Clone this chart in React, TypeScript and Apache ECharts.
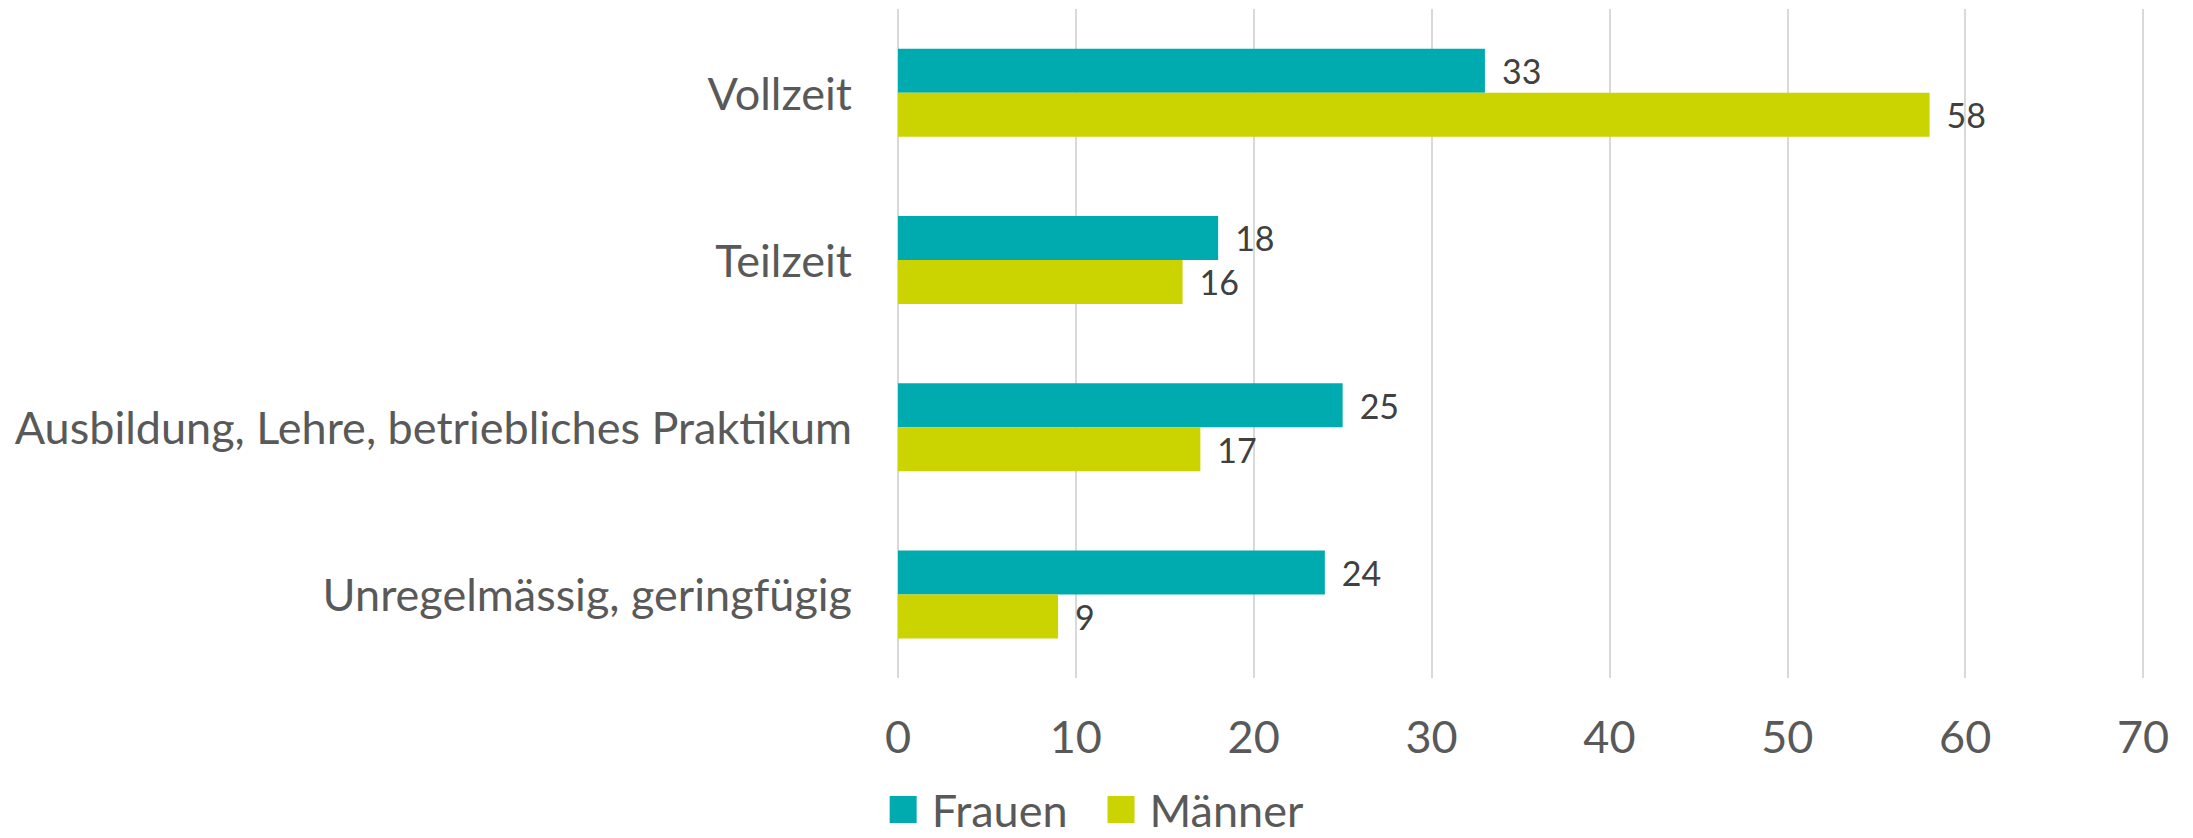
import React, { useEffect, useRef } from "react";
import * as echarts from "echarts";

const categories = [
  "Vollzeit",
  "Teilzeit",
  "Ausbildung, Lehre, betriebliches Praktikum",
  "Unregelmässig, geringfügig",
];
const frauen = [33, 18, 25, 24];
const maenner = [58, 16, 17, 9];
const seriesNames = ["Frauen", "Männer"];

const FONT = "Lato, 'Open Sans', sans-serif";

export default function App() {
  const ref = useRef<HTMLDivElement>(null);
  useEffect(() => {
    document.body.style.margin = "0";
    const chart = echarts.init(ref.current!, undefined, { renderer: "svg" });
    const labelCfg = {
      show: true,
      position: "right" as const,
      distance: 17,
      fontSize: 34,
      color: "#404040",
      fontFamily: FONT,
    };
    chart.setOption({
      animation: false,
      textStyle: { fontFamily: FONT },
      grid: { left: 898, right: 50, top: 9, bottom: 160, containLabel: false },
      legend: {
        bottom: 6,
        left: "center",
        padding: 0,
        icon: "rect",
        itemWidth: 27,
        itemHeight: 27,
        itemGap: 40,
        textStyle: {
          fontSize: 45,
          lineHeight: 34,
          color: "#595959",
          fontFamily: FONT,
          padding: [0, 0, 0, 10],
        },
        data: seriesNames,
      },
      xAxis: {
        type: "value",
        min: 0,
        max: 70,
        interval: 10,
        axisLine: { show: false },
        axisTick: { show: false },
        splitLine: { show: true, lineStyle: { color: "#D9D9D9", width: 2 } },
        axisLabel: {
          fontSize: 45,
          color: "#595959",
          margin: 35,
          fontFamily: FONT,
        },
      },
      yAxis: {
        type: "category",
        inverse: true,
        data: categories,
        axisLine: { show: false },
        axisTick: { show: false },
        axisLabel: {
          fontSize: 45,
          color: "#595959",
          margin: 46,
          fontFamily: FONT,
        },
      },
      series: [
        {
          name: seriesNames[0],
          type: "bar",
          data: frauen,
          barWidth: 44,
          barGap: "0%",
          itemStyle: { color: "#00ABB0" },
          label: labelCfg,
        },
        {
          name: seriesNames[1],
          type: "bar",
          data: maenner,
          barWidth: 44,
          barGap: "0%",
          itemStyle: { color: "#CBD300" },
          label: labelCfg,
        },
      ],
    });
    return () => chart.dispose();
  }, []);
  return <div ref={ref} style={{ width: 2193, height: 838 }} />;
}
